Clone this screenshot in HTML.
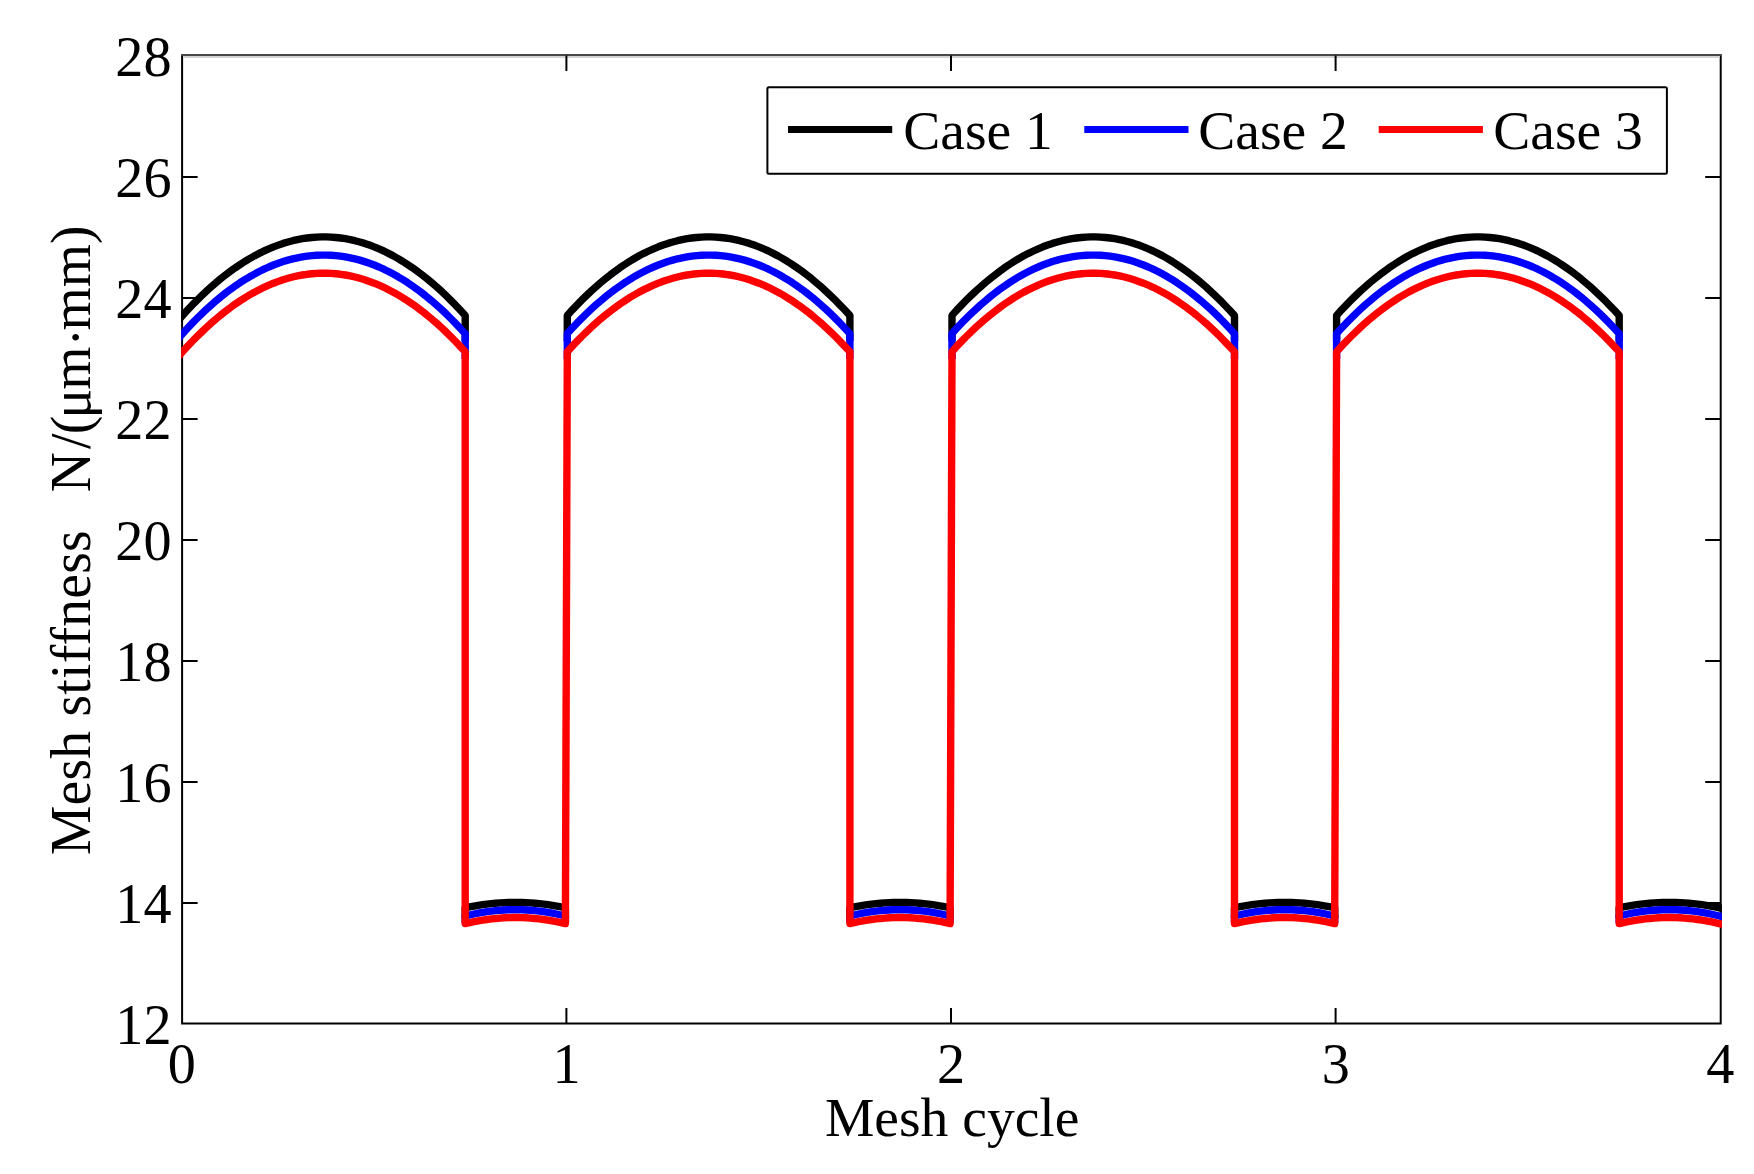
<!DOCTYPE html>
<html lang="en"><head><meta charset="utf-8"><title>Mesh stiffness</title>
<style>html,body{margin:0;padding:0;background:#fff;}body{width:1754px;height:1174px;overflow:hidden;}svg{display:block;}text{font-family:"Liberation Serif","Times New Roman",serif;font-size:55.56px;fill:#000;}</style></head><body>
<svg width="1754" height="1174" viewBox="0 0 1754 1174">
<rect width="1754" height="1174" fill="#fff"/>
<defs><clipPath id="ax"><rect x="181.1" y="55.4" width="1540.8" height="968.0"/></clipPath></defs>
<g stroke="#000" stroke-width="2" fill="none">
<path d="M182.1 54.4V1023.4H1720.7V54.4"/>
<path d="M183.1 57H1719.7" stroke="#d3d3d3"/>
<path d="M181.1 55H1721.7" stroke="#484848"/>
<path d="M566.4 1023.4V1007.9M566.4 55.4V70.9"/>
<path d="M951.0 1023.4V1007.9M951.0 55.4V70.9"/>
<path d="M1335.6 1023.4V1007.9M1335.6 55.4V70.9"/>
<path d="M182.1 902.9H197.6M1720.7 902.9H1705.2"/>
<path d="M182.1 781.9H197.6M1720.7 781.9H1705.2"/>
<path d="M182.1 660.9H197.6M1720.7 660.9H1705.2"/>
<path d="M182.1 539.9H197.6M1720.7 539.9H1705.2"/>
<path d="M182.1 418.9H197.6M1720.7 418.9H1705.2"/>
<path d="M182.1 297.9H197.6M1720.7 297.9H1705.2"/>
<path d="M182.1 176.9H197.6M1720.7 176.9H1705.2"/>
</g>
<g clip-path="url(#ax)" fill="none" stroke-width="7.4" stroke-linejoin="round">
<path d="M177.9 320.8 L182.5 315.6 L187.3 310.3 L192.1 305.2 L196.9 300.4 L201.7 295.7 L206.5 291.1 L211.3 286.8 L216.0 282.7 L220.8 278.7 L225.6 274.9 L230.4 271.3 L235.2 267.8 L240.0 264.6 L244.8 261.5 L249.6 258.6 L254.4 255.9 L259.2 253.4 L264.0 251.0 L268.8 248.9 L273.5 246.9 L278.3 245.1 L283.1 243.4 L287.9 242.0 L292.7 240.7 L297.5 239.6 L302.3 238.7 L307.1 238.0 L311.9 237.5 L316.7 237.1 L321.5 236.9 L326.3 236.9 L331.0 237.1 L335.8 237.5 L340.6 238.0 L345.4 238.7 L350.2 239.6 L355.0 240.7 L359.8 242.0 L364.6 243.4 L369.4 245.1 L374.2 246.9 L379.0 248.9 L383.8 251.0 L388.5 253.4 L393.3 255.9 L398.1 258.6 L402.9 261.5 L407.7 264.6 L412.5 267.8 L417.3 271.3 L422.1 274.9 L426.9 278.7 L431.7 282.7 L436.5 286.8 L441.3 291.1 L446.1 295.7 L450.8 300.4 L455.6 305.2 L460.4 310.3 L465.2 315.6 L465.2 341.0 M465.2 918.1 L465.2 907.8 L469.6 906.9 L473.9 906.1 L478.3 905.4 L482.6 904.7 L487.0 904.1 L491.4 903.6 L495.7 903.2 L500.1 902.9 L504.4 902.7 L508.8 902.5 L513.1 902.4 L517.5 902.4 L521.9 902.5 L526.2 902.7 L530.6 902.9 L534.9 903.2 L539.3 903.6 L543.6 904.1 L548.0 904.7 L552.3 905.4 L556.7 906.1 L561.1 906.9 L565.4 907.8 L565.4 918.1 M567.3 341.0 L567.3 315.4 L572.1 310.1 L576.9 305.1 L581.7 300.2 L586.5 295.5 L591.2 291.0 L596.0 286.7 L600.8 282.5 L605.6 278.6 L610.4 274.8 L615.2 271.2 L620.0 267.7 L624.8 264.5 L629.6 261.4 L634.4 258.5 L639.1 255.8 L643.9 253.3 L648.7 251.0 L653.5 248.8 L658.3 246.8 L663.1 245.0 L667.9 243.4 L672.7 242.0 L677.5 240.7 L682.2 239.6 L687.0 238.7 L691.8 238.0 L696.6 237.5 L701.4 237.1 L706.2 236.9 L711.0 236.9 L715.8 237.1 L720.6 237.5 L725.3 238.0 L730.1 238.7 L734.9 239.6 L739.7 240.7 L744.5 242.0 L749.3 243.4 L754.1 245.1 L758.9 246.9 L763.7 248.9 L768.5 251.0 L773.2 253.4 L778.0 255.9 L782.8 258.6 L787.6 261.5 L792.4 264.6 L797.2 267.9 L802.0 271.3 L806.8 274.9 L811.6 278.7 L816.3 282.7 L821.1 286.8 L825.9 291.2 L830.7 295.7 L835.5 300.4 L840.3 305.3 L845.1 310.3 L849.9 315.6 L849.9 341.0 M849.9 918.1 L849.9 907.8 L854.2 906.9 L858.6 906.1 L862.9 905.4 L867.3 904.7 L871.7 904.1 L876.0 903.6 L880.4 903.2 L884.7 902.9 L889.1 902.7 L893.4 902.5 L897.8 902.4 L902.1 902.4 L906.5 902.5 L910.9 902.7 L915.2 902.9 L919.6 903.2 L923.9 903.6 L928.3 904.1 L932.6 904.7 L937.0 905.4 L941.4 906.1 L945.7 906.9 L950.1 907.8 L950.1 918.1 M952.0 341.0 L952.0 315.4 L956.7 310.1 L961.5 305.1 L966.3 300.2 L971.1 295.5 L975.9 291.0 L980.7 286.7 L985.5 282.5 L990.3 278.6 L995.1 274.8 L999.8 271.2 L1004.6 267.7 L1009.4 264.5 L1014.2 261.4 L1019.0 258.5 L1023.8 255.8 L1028.6 253.3 L1033.4 251.0 L1038.2 248.8 L1042.9 246.8 L1047.7 245.0 L1052.5 243.4 L1057.3 242.0 L1062.1 240.7 L1066.9 239.6 L1071.7 238.7 L1076.5 238.0 L1081.3 237.5 L1086.1 237.1 L1090.8 236.9 L1095.6 236.9 L1100.4 237.1 L1105.2 237.5 L1110.0 238.0 L1114.8 238.7 L1119.6 239.6 L1124.4 240.7 L1129.2 242.0 L1133.9 243.4 L1138.7 245.1 L1143.5 246.9 L1148.3 248.9 L1153.1 251.0 L1157.9 253.4 L1162.7 255.9 L1167.5 258.6 L1172.3 261.5 L1177.0 264.6 L1181.8 267.9 L1186.6 271.3 L1191.4 274.9 L1196.2 278.7 L1201.0 282.7 L1205.8 286.8 L1210.6 291.2 L1215.4 295.7 L1220.2 300.4 L1224.9 305.3 L1229.7 310.3 L1234.5 315.6 L1234.5 341.0 M1234.5 918.1 L1234.5 907.8 L1238.9 906.9 L1243.2 906.1 L1247.6 905.4 L1251.9 904.7 L1256.3 904.1 L1260.7 903.6 L1265.0 903.2 L1269.4 902.9 L1273.7 902.7 L1278.1 902.5 L1282.4 902.4 L1286.8 902.4 L1291.2 902.5 L1295.5 902.7 L1299.9 902.9 L1304.2 903.2 L1308.6 903.6 L1312.9 904.1 L1317.3 904.7 L1321.6 905.4 L1326.0 906.1 L1330.4 906.9 L1334.7 907.8 L1334.7 918.1 M1336.6 341.0 L1336.6 315.4 L1341.4 310.1 L1346.2 305.1 L1351.0 300.2 L1355.8 295.5 L1360.5 291.0 L1365.3 286.7 L1370.1 282.5 L1374.9 278.6 L1379.7 274.8 L1384.5 271.2 L1389.3 267.7 L1394.1 264.5 L1398.9 261.4 L1403.7 258.5 L1408.4 255.8 L1413.2 253.3 L1418.0 251.0 L1422.8 248.8 L1427.6 246.8 L1432.4 245.0 L1437.2 243.4 L1442.0 242.0 L1446.8 240.7 L1451.5 239.6 L1456.3 238.7 L1461.1 238.0 L1465.9 237.5 L1470.7 237.1 L1475.5 236.9 L1480.3 236.9 L1485.1 237.1 L1489.9 237.5 L1494.6 238.0 L1499.4 238.7 L1504.2 239.6 L1509.0 240.7 L1513.8 242.0 L1518.6 243.4 L1523.4 245.1 L1528.2 246.9 L1533.0 248.9 L1537.8 251.0 L1542.5 253.4 L1547.3 255.9 L1552.1 258.6 L1556.9 261.5 L1561.7 264.6 L1566.5 267.9 L1571.3 271.3 L1576.1 274.9 L1580.9 278.7 L1585.6 282.7 L1590.4 286.8 L1595.2 291.2 L1600.0 295.7 L1604.8 300.4 L1609.6 305.3 L1614.4 310.3 L1619.2 315.6 L1619.2 341.0 M1619.2 918.1 L1619.2 907.8 L1623.5 906.9 L1627.9 906.1 L1632.2 905.4 L1636.6 904.7 L1641.0 904.1 L1645.3 903.6 L1649.7 903.2 L1654.0 902.9 L1658.4 902.7 L1662.7 902.5 L1667.1 902.4 L1671.4 902.4 L1675.8 902.5 L1680.2 902.7 L1684.5 902.9 L1688.9 903.2 L1693.2 903.6 L1697.6 904.1 L1701.9 904.7 L1706.3 905.4 L1710.7 906.1 L1715.0 906.9 L1719.4 907.8 L1725.7 909.3" stroke="#000000"/>
<path d="M177.9 338.9 L182.5 333.7 L187.3 328.5 L192.1 323.4 L196.9 318.5 L201.7 313.8 L206.5 309.3 L211.3 305.0 L216.0 300.8 L220.8 296.8 L225.6 293.0 L230.4 289.4 L235.2 286.0 L240.0 282.7 L244.8 279.7 L249.6 276.8 L254.4 274.1 L259.2 271.5 L264.0 269.2 L268.8 267.0 L273.5 265.0 L278.3 263.2 L283.1 261.6 L287.9 260.1 L292.7 258.9 L297.5 257.8 L302.3 256.9 L307.1 256.2 L311.9 255.6 L316.7 255.3 L321.5 255.1 L326.3 255.1 L331.0 255.3 L335.8 255.6 L340.6 256.2 L345.4 256.9 L350.2 257.8 L355.0 258.9 L359.8 260.1 L364.6 261.6 L369.4 263.2 L374.2 265.0 L379.0 267.0 L383.8 269.2 L388.5 271.5 L393.3 274.1 L398.1 276.8 L402.9 279.7 L407.7 282.7 L412.5 286.0 L417.3 289.4 L422.1 293.0 L426.9 296.8 L431.7 300.8 L436.5 305.0 L441.3 309.3 L446.1 313.8 L450.8 318.5 L455.6 323.4 L460.4 328.5 L465.2 333.7 L465.2 359.1 M465.2 923.0 L465.2 916.0 L469.6 915.0 L473.9 914.0 L478.3 913.1 L482.6 912.4 L487.0 911.7 L491.4 911.1 L495.7 910.6 L500.1 910.2 L504.4 910.0 L508.8 909.8 L513.1 909.7 L517.5 909.7 L521.9 909.8 L526.2 910.0 L530.6 910.2 L534.9 910.6 L539.3 911.1 L543.6 911.7 L548.0 912.4 L552.3 913.1 L556.7 914.0 L561.1 915.0 L565.4 916.0 L565.4 923.0 M567.3 359.1 L567.3 333.5 L572.1 328.3 L576.9 323.2 L581.7 318.4 L586.5 313.7 L591.2 309.2 L596.0 304.8 L600.8 300.7 L605.6 296.7 L610.4 292.9 L615.2 289.3 L620.0 285.9 L624.8 282.6 L629.6 279.6 L634.4 276.7 L639.1 274.0 L643.9 271.5 L648.7 269.1 L653.5 267.0 L658.3 265.0 L663.1 263.2 L667.9 261.5 L672.7 260.1 L677.5 258.8 L682.2 257.8 L687.0 256.9 L691.8 256.1 L696.6 255.6 L701.4 255.2 L706.2 255.1 L711.0 255.1 L715.8 255.3 L720.6 255.6 L725.3 256.2 L730.1 256.9 L734.9 257.8 L739.7 258.9 L744.5 260.1 L749.3 261.6 L754.1 263.2 L758.9 265.0 L763.7 267.0 L768.5 269.2 L773.2 271.5 L778.0 274.1 L782.8 276.8 L787.6 279.7 L792.4 282.7 L797.2 286.0 L802.0 289.4 L806.8 293.0 L811.6 296.8 L816.3 300.8 L821.1 305.0 L825.9 309.3 L830.7 313.8 L835.5 318.5 L840.3 323.4 L845.1 328.5 L849.9 333.7 L849.9 359.1 M849.9 923.0 L849.9 916.0 L854.2 915.0 L858.6 914.0 L862.9 913.1 L867.3 912.4 L871.7 911.7 L876.0 911.1 L880.4 910.6 L884.7 910.2 L889.1 910.0 L893.4 909.8 L897.8 909.7 L902.1 909.7 L906.5 909.8 L910.9 910.0 L915.2 910.2 L919.6 910.6 L923.9 911.1 L928.3 911.7 L932.6 912.4 L937.0 913.1 L941.4 914.0 L945.7 915.0 L950.1 916.0 L950.1 923.0 M952.0 359.1 L952.0 333.5 L956.7 328.3 L961.5 323.2 L966.3 318.4 L971.1 313.7 L975.9 309.2 L980.7 304.8 L985.5 300.7 L990.3 296.7 L995.1 292.9 L999.8 289.3 L1004.6 285.9 L1009.4 282.6 L1014.2 279.6 L1019.0 276.7 L1023.8 274.0 L1028.6 271.5 L1033.4 269.1 L1038.2 267.0 L1042.9 265.0 L1047.7 263.2 L1052.5 261.5 L1057.3 260.1 L1062.1 258.8 L1066.9 257.8 L1071.7 256.9 L1076.5 256.1 L1081.3 255.6 L1086.1 255.2 L1090.8 255.1 L1095.6 255.1 L1100.4 255.3 L1105.2 255.6 L1110.0 256.2 L1114.8 256.9 L1119.6 257.8 L1124.4 258.9 L1129.2 260.1 L1133.9 261.6 L1138.7 263.2 L1143.5 265.0 L1148.3 267.0 L1153.1 269.2 L1157.9 271.5 L1162.7 274.1 L1167.5 276.8 L1172.3 279.7 L1177.0 282.7 L1181.8 286.0 L1186.6 289.4 L1191.4 293.0 L1196.2 296.8 L1201.0 300.8 L1205.8 305.0 L1210.6 309.3 L1215.4 313.8 L1220.2 318.5 L1224.9 323.4 L1229.7 328.5 L1234.5 333.7 L1234.5 359.1 M1234.5 923.0 L1234.5 916.0 L1238.9 915.0 L1243.2 914.0 L1247.6 913.1 L1251.9 912.4 L1256.3 911.7 L1260.7 911.1 L1265.0 910.6 L1269.4 910.2 L1273.7 910.0 L1278.1 909.8 L1282.4 909.7 L1286.8 909.7 L1291.2 909.8 L1295.5 910.0 L1299.9 910.2 L1304.2 910.6 L1308.6 911.1 L1312.9 911.7 L1317.3 912.4 L1321.6 913.1 L1326.0 914.0 L1330.4 915.0 L1334.7 916.0 L1334.7 923.0 M1336.6 359.1 L1336.6 333.5 L1341.4 328.3 L1346.2 323.2 L1351.0 318.4 L1355.8 313.7 L1360.5 309.2 L1365.3 304.8 L1370.1 300.7 L1374.9 296.7 L1379.7 292.9 L1384.5 289.3 L1389.3 285.9 L1394.1 282.6 L1398.9 279.6 L1403.7 276.7 L1408.4 274.0 L1413.2 271.5 L1418.0 269.1 L1422.8 267.0 L1427.6 265.0 L1432.4 263.2 L1437.2 261.5 L1442.0 260.1 L1446.8 258.8 L1451.5 257.8 L1456.3 256.9 L1461.1 256.1 L1465.9 255.6 L1470.7 255.2 L1475.5 255.1 L1480.3 255.1 L1485.1 255.3 L1489.9 255.6 L1494.6 256.2 L1499.4 256.9 L1504.2 257.8 L1509.0 258.9 L1513.8 260.1 L1518.6 261.6 L1523.4 263.2 L1528.2 265.0 L1533.0 267.0 L1537.8 269.2 L1542.5 271.5 L1547.3 274.1 L1552.1 276.8 L1556.9 279.7 L1561.7 282.7 L1566.5 286.0 L1571.3 289.4 L1576.1 293.0 L1580.9 296.8 L1585.6 300.8 L1590.4 305.0 L1595.2 309.3 L1600.0 313.8 L1604.8 318.5 L1609.6 323.4 L1614.4 328.5 L1619.2 333.7 L1619.2 359.1 M1619.2 923.0 L1619.2 916.0 L1623.5 915.0 L1627.9 914.0 L1632.2 913.1 L1636.6 912.4 L1641.0 911.7 L1645.3 911.1 L1649.7 910.6 L1654.0 910.2 L1658.4 910.0 L1662.7 909.8 L1667.1 909.7 L1671.4 909.7 L1675.8 909.8 L1680.2 910.0 L1684.5 910.2 L1688.9 910.6 L1693.2 911.1 L1697.6 911.7 L1701.9 912.4 L1706.3 913.1 L1710.7 914.0 L1715.0 915.0 L1719.4 916.0 L1725.7 917.7" stroke="#0000ff"/>
<path d="M177.9 357.1 L182.5 351.8 L187.3 346.6 L192.1 341.5 L196.9 336.7 L201.7 332.0 L206.5 327.4 L211.3 323.1 L216.0 319.0 L220.8 315.0 L225.6 311.2 L230.4 307.6 L235.2 304.1 L240.0 300.9 L244.8 297.8 L249.6 294.9 L254.4 292.2 L259.2 289.7 L264.0 287.3 L268.8 285.2 L273.5 283.2 L278.3 281.4 L283.1 279.7 L287.9 278.3 L292.7 277.0 L297.5 275.9 L302.3 275.0 L307.1 274.3 L311.9 273.8 L316.7 273.4 L321.5 273.2 L326.3 273.2 L331.0 273.4 L335.8 273.8 L340.6 274.3 L345.4 275.0 L350.2 275.9 L355.0 277.0 L359.8 278.3 L364.6 279.7 L369.4 281.4 L374.2 283.2 L379.0 285.2 L383.8 287.3 L388.5 289.7 L393.3 292.2 L398.1 294.9 L402.9 297.8 L407.7 300.9 L412.5 304.1 L417.3 307.6 L422.1 311.2 L426.9 315.0 L431.7 319.0 L436.5 323.1 L441.3 327.4 L446.1 332.0 L450.8 336.7 L455.6 341.5 L460.4 346.6 L465.2 351.8 L465.2 923.6 L469.6 922.6 L473.9 921.7 L478.3 920.8 L482.6 920.1 L487.0 919.5 L491.4 918.9 L495.7 918.5 L500.1 918.1 L504.4 917.8 L508.8 917.6 L513.1 917.5 L517.5 917.5 L521.9 917.6 L526.2 917.8 L530.6 918.1 L534.9 918.5 L539.3 918.9 L543.6 919.5 L548.0 920.1 L552.3 920.8 L556.7 921.7 L561.1 922.6 L565.4 923.6 L567.3 351.7 L572.1 346.4 L576.9 341.4 L581.7 336.5 L586.5 331.8 L591.2 327.3 L596.0 323.0 L600.8 318.8 L605.6 314.9 L610.4 311.1 L615.2 307.5 L620.0 304.0 L624.8 300.8 L629.6 297.7 L634.4 294.8 L639.1 292.1 L643.9 289.6 L648.7 287.3 L653.5 285.1 L658.3 283.1 L663.1 281.3 L667.9 279.7 L672.7 278.3 L677.5 277.0 L682.2 275.9 L687.0 275.0 L691.8 274.3 L696.6 273.8 L701.4 273.4 L706.2 273.2 L711.0 273.2 L715.8 273.4 L720.6 273.8 L725.3 274.3 L730.1 275.0 L734.9 275.9 L739.7 277.0 L744.5 278.3 L749.3 279.7 L754.1 281.4 L758.9 283.2 L763.7 285.2 L768.5 287.3 L773.2 289.7 L778.0 292.2 L782.8 294.9 L787.6 297.8 L792.4 300.9 L797.2 304.2 L802.0 307.6 L806.8 311.2 L811.6 315.0 L816.3 319.0 L821.1 323.1 L825.9 327.5 L830.7 332.0 L835.5 336.7 L840.3 341.6 L845.1 346.6 L849.9 351.8 L849.9 923.6 L854.2 922.6 L858.6 921.7 L862.9 920.8 L867.3 920.1 L871.7 919.5 L876.0 918.9 L880.4 918.5 L884.7 918.1 L889.1 917.8 L893.4 917.6 L897.8 917.5 L902.1 917.5 L906.5 917.6 L910.9 917.8 L915.2 918.1 L919.6 918.5 L923.9 918.9 L928.3 919.5 L932.6 920.1 L937.0 920.8 L941.4 921.7 L945.7 922.6 L950.1 923.6 L952.0 351.7 L956.7 346.4 L961.5 341.4 L966.3 336.5 L971.1 331.8 L975.9 327.3 L980.7 323.0 L985.5 318.8 L990.3 314.9 L995.1 311.1 L999.8 307.5 L1004.6 304.0 L1009.4 300.8 L1014.2 297.7 L1019.0 294.8 L1023.8 292.1 L1028.6 289.6 L1033.4 287.3 L1038.2 285.1 L1042.9 283.1 L1047.7 281.3 L1052.5 279.7 L1057.3 278.3 L1062.1 277.0 L1066.9 275.9 L1071.7 275.0 L1076.5 274.3 L1081.3 273.8 L1086.1 273.4 L1090.8 273.2 L1095.6 273.2 L1100.4 273.4 L1105.2 273.8 L1110.0 274.3 L1114.8 275.0 L1119.6 275.9 L1124.4 277.0 L1129.2 278.3 L1133.9 279.7 L1138.7 281.4 L1143.5 283.2 L1148.3 285.2 L1153.1 287.3 L1157.9 289.7 L1162.7 292.2 L1167.5 294.9 L1172.3 297.8 L1177.0 300.9 L1181.8 304.2 L1186.6 307.6 L1191.4 311.2 L1196.2 315.0 L1201.0 319.0 L1205.8 323.1 L1210.6 327.5 L1215.4 332.0 L1220.2 336.7 L1224.9 341.6 L1229.7 346.6 L1234.5 351.8 L1234.5 923.6 L1238.9 922.6 L1243.2 921.7 L1247.6 920.8 L1251.9 920.1 L1256.3 919.5 L1260.7 918.9 L1265.0 918.5 L1269.4 918.1 L1273.7 917.8 L1278.1 917.6 L1282.4 917.5 L1286.8 917.5 L1291.2 917.6 L1295.5 917.8 L1299.9 918.1 L1304.2 918.5 L1308.6 918.9 L1312.9 919.5 L1317.3 920.1 L1321.6 920.8 L1326.0 921.7 L1330.4 922.6 L1334.7 923.6 L1336.6 351.7 L1341.4 346.4 L1346.2 341.4 L1351.0 336.5 L1355.8 331.8 L1360.5 327.3 L1365.3 323.0 L1370.1 318.8 L1374.9 314.9 L1379.7 311.1 L1384.5 307.5 L1389.3 304.0 L1394.1 300.8 L1398.9 297.7 L1403.7 294.8 L1408.4 292.1 L1413.2 289.6 L1418.0 287.3 L1422.8 285.1 L1427.6 283.1 L1432.4 281.3 L1437.2 279.7 L1442.0 278.3 L1446.8 277.0 L1451.5 275.9 L1456.3 275.0 L1461.1 274.3 L1465.9 273.8 L1470.7 273.4 L1475.5 273.2 L1480.3 273.2 L1485.1 273.4 L1489.9 273.8 L1494.6 274.3 L1499.4 275.0 L1504.2 275.9 L1509.0 277.0 L1513.8 278.3 L1518.6 279.7 L1523.4 281.4 L1528.2 283.2 L1533.0 285.2 L1537.8 287.3 L1542.5 289.7 L1547.3 292.2 L1552.1 294.9 L1556.9 297.8 L1561.7 300.9 L1566.5 304.2 L1571.3 307.6 L1576.1 311.2 L1580.9 315.0 L1585.6 319.0 L1590.4 323.1 L1595.2 327.5 L1600.0 332.0 L1604.8 336.7 L1609.6 341.6 L1614.4 346.6 L1619.2 351.8 L1619.2 923.6 L1623.5 922.6 L1627.9 921.7 L1632.2 920.8 L1636.6 920.1 L1641.0 919.5 L1645.3 918.9 L1649.7 918.5 L1654.0 918.1 L1658.4 917.8 L1662.7 917.6 L1667.1 917.5 L1671.4 917.5 L1675.8 917.6 L1680.2 917.8 L1684.5 918.1 L1688.9 918.5 L1693.2 918.9 L1697.6 919.5 L1701.9 920.1 L1706.3 920.8 L1710.7 921.7 L1715.0 922.6 L1719.4 923.6 L1725.7 925.2" stroke="#ff0000"/>
</g>
<text transform="translate(181.8,1083.4) scale(1.012,1.025)" text-anchor="middle">0</text>
<text transform="translate(566.5,1083.4) scale(1.012,1.025)" text-anchor="middle">1</text>
<text transform="translate(951.1,1083.4) scale(1.012,1.025)" text-anchor="middle">2</text>
<text transform="translate(1335.8,1083.4) scale(1.012,1.025)" text-anchor="middle">3</text>
<text transform="translate(1720.4,1083.4) scale(1.012,1.025)" text-anchor="middle">4</text>
<text transform="translate(171.5,1043.9) scale(1.012,1.025)" text-anchor="end">12</text>
<text transform="translate(171.5,922.9) scale(1.012,1.025)" text-anchor="end">14</text>
<text transform="translate(171.5,801.9) scale(1.012,1.025)" text-anchor="end">16</text>
<text transform="translate(171.5,680.9) scale(1.012,1.025)" text-anchor="end">18</text>
<text transform="translate(171.5,559.9) scale(1.012,1.025)" text-anchor="end">20</text>
<text transform="translate(171.5,438.9) scale(1.012,1.025)" text-anchor="end">22</text>
<text transform="translate(171.5,317.9) scale(1.012,1.025)" text-anchor="end">24</text>
<text transform="translate(171.5,196.9) scale(1.012,1.025)" text-anchor="end">26</text>
<text transform="translate(171.5,75.9) scale(1.012,1.025)" text-anchor="end">28</text>
<text x="952.2" y="1135.5" text-anchor="middle">Mesh cycle</text>
<text transform="translate(89.5,540) rotate(-90) scale(1,1.03)" xml:space="preserve"><tspan x="-315.1" letter-spacing="0.26">Mesh stiffness   </tspan><tspan x="47.8 91 105.8 121.4 150.2 193.4 209.6" dy="0 0 0 0 0 5 -5">N/(μm·mm)</tspan></text>
<rect x="767.4" y="87.15" width="899.50" height="86.50" rx="1.5" fill="#fff" stroke="#000" stroke-width="2"/>
<rect x="788.0" y="126" width="104.2" height="7" fill="#000"/>
<text x="903.2" y="149.2">Case 1</text>
<rect x="1084.3" y="126" width="104.2" height="7" fill="#00f"/>
<text x="1198.2" y="149.2">Case 2</text>
<rect x="1378.7" y="126" width="104.2" height="7" fill="#f00"/>
<text x="1493.2" y="149.2">Case 3</text>
</svg></body></html>
